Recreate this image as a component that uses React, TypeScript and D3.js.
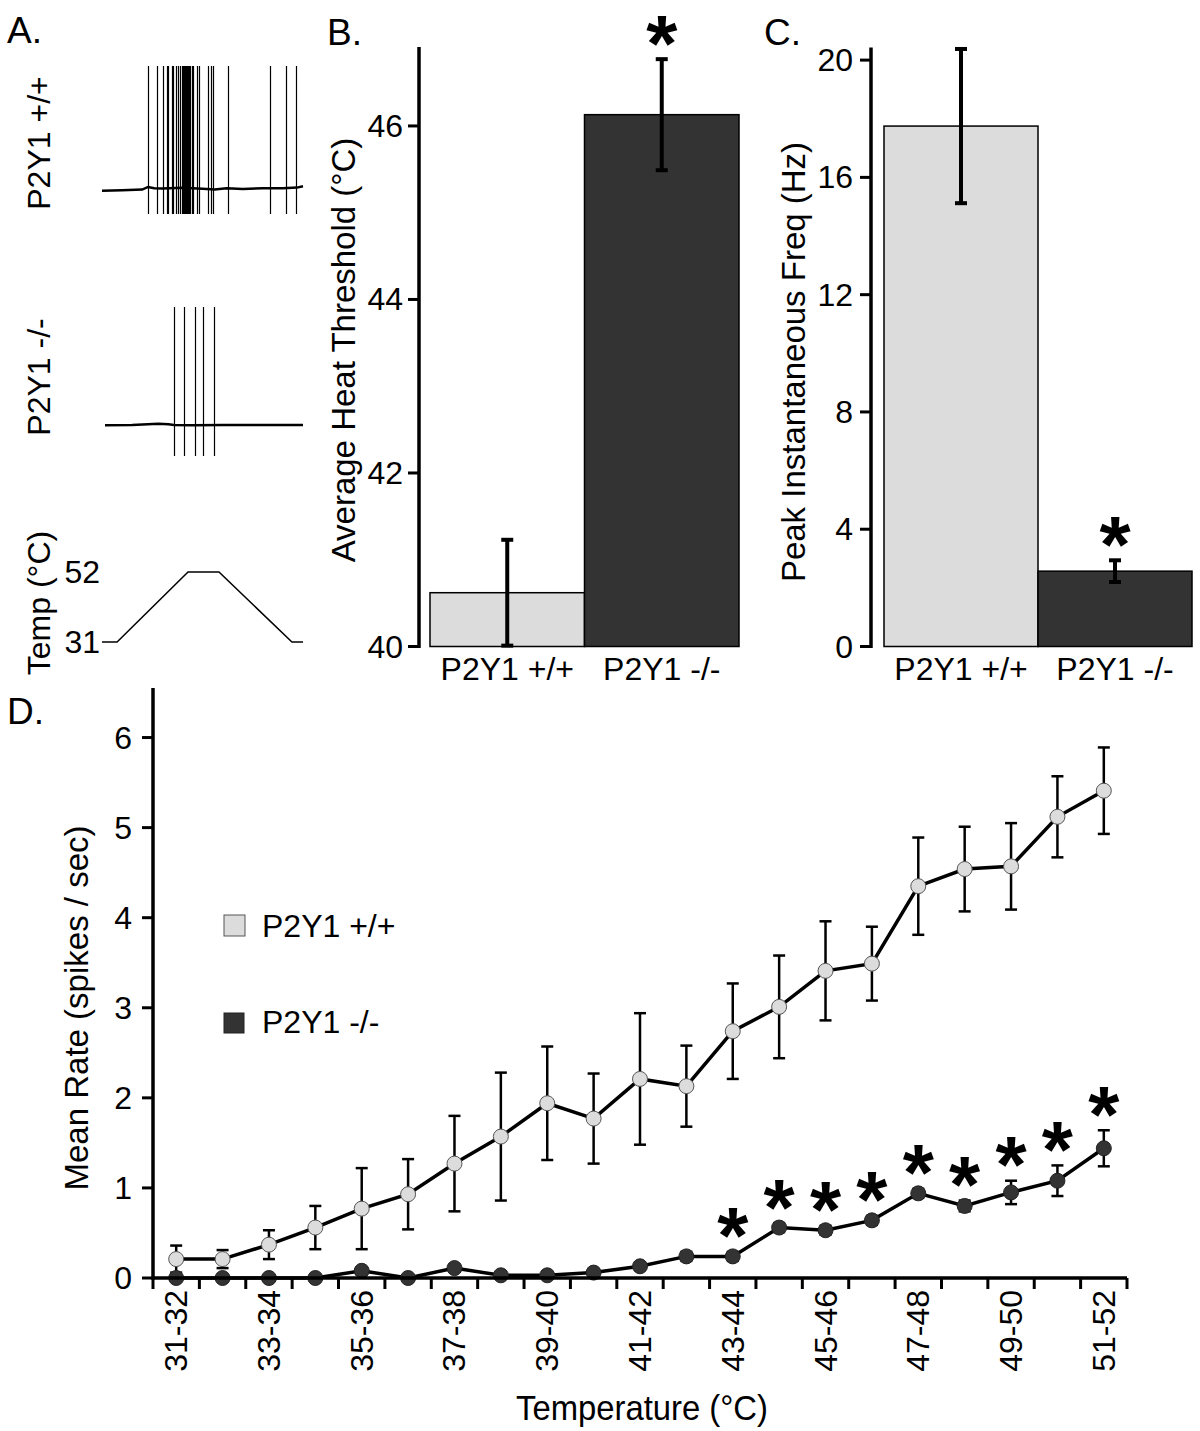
import React from 'react';
import * as d3 from 'd3';

const FONT = '"Liberation Sans", Arial, Helvetica, sans-serif';
const LIGHT = '#dcdcdc';
const DARK = '#333333';

// ---------- Panel A: recordings ----------
const wtSpikeTimes = [22.9, 27.4, 30.3, 32.3, 32.8, 34.8, 35.3, 36.8, 37.8, 38.8, 39.8, 40.3, 40.8, 41.3, 41.8, 42.3, 42.8, 43.3, 43.8, 44.8, 45.3, 47.3, 48.3, 52.7, 54.2, 55.2, 62.7, 83.6, 91.5, 96.5];
const koSpikeTimes = [35.8, 40.8, 46.3, 50.2, 55.7];
const wtBaselineT = [0, 10, 20, 22.9, 26, 30, 40, 50, 56, 62, 70, 80, 90, 97, 100];
const wtBaselineV = [-57, -56.5, -56, -54, -55, -55.2, -54.6, -55.4, -56, -55, -55.5, -55, -55, -54.5, -53.5];
const koBaselineT = [1.5, 15, 28, 33, 35.8, 45, 60, 80, 100];
const koBaselineV = [-51.2, -51, -50.2, -50.5, -51, -51.2, -51, -51, -51];
const spikePeak = 40;
const spikeTrough = -75;
const tempProfileT = [0, 7.5, 42.8, 58.2, 94.5, 100];
const tempProfileC = [31, 31, 52, 52, 31, 31];
const tempTicks = [31, 52];

// ---------- Panel B / C ----------
const groups = ['P2Y1 +/+', 'P2Y1 -/-'];
const heatThreshold = [40.62, 46.13];
const heatThresholdErr = [0.61, 0.64];
const heatSig = [false, true];
const heatTicks = [40, 42, 44, 46];
const peakFreq = [17.75, 2.57];
const peakFreqErr = [2.63, 0.37];
const freqSig = [false, true];
const freqTicks = [0, 4, 8, 12, 16, 20];

// ---------- Panel D ----------
const tempBins = ['31-32', '32-33', '33-34', '34-35', '35-36', '36-37', '37-38', '38-39', '39-40', '40-41', '41-42', '42-43', '43-44', '44-45', '45-46', '46-47', '47-48', '48-49', '49-50', '50-51', '51-52'];
const tempBinLabels = ['31-32', '33-34', '35-36', '37-38', '39-40', '41-42', '43-44', '45-46', '47-48', '49-50', '51-52'];
const wtRate = [0.21, 0.21, 0.37, 0.56, 0.77, 0.93, 1.27, 1.57, 1.94, 1.77, 2.21, 2.13, 2.74, 3.01, 3.41, 3.49, 4.35, 4.54, 4.57, 5.12, 5.41];
const wtRateErr = [0.15, 0.1, 0.16, 0.24, 0.45, 0.39, 0.53, 0.71, 0.63, 0.5, 0.73, 0.45, 0.53, 0.57, 0.55, 0.41, 0.54, 0.47, 0.48, 0.45, 0.48];
const koRate = [0, 0, 0, 0, 0.08, 0, 0.11, 0.03, 0.03, 0.06, 0.13, 0.24, 0.24, 0.56, 0.53, 0.64, 0.94, 0.8, 0.95, 1.08, 1.44];
const koRateErr = [0.02, 0.02, 0.02, 0.02, 0.04, 0.02, 0.04, 0.02, 0.02, 0.03, 0.04, 0.05, 0.05, 0.05, 0.05, 0.05, 0.05, 0.06, 0.13, 0.17, 0.2];
const koSig = [false, false, false, false, false, false, false, false, false, false, false, false, true, true, true, true, true, true, true, true, true];
const rateTicks = [0, 1, 2, 3, 4, 5, 6];

const Star = ({ x, y, size = 80 }: { x: number; y: number; size?: number }) => (
  <text x={x} y={y + size * 0.47} textAnchor="middle" fontSize={size} fontWeight="bold" fontFamily={FONT} fill="#000">*</text>
);

function PanelA() {
  const t = d3.scaleLinear().domain([0, 100]).range([102, 303]);
  const vWT = d3.scaleLinear().domain([spikeTrough, spikePeak]).range([214, 66]);
  const vKO = d3.scaleLinear().domain([spikeTrough, spikePeak]).range([456, 307]);
  const tempY = d3.scaleLinear().domain([31, 52]).range([642, 572]);
  const line = d3.line<[number, number]>();
  const wtBase = line(wtBaselineT.map((tt, i) => [t(tt), vWT(wtBaselineV[i])]))!;
  const koBase = line(koBaselineT.map((tt, i) => [t(tt), vKO(koBaselineV[i])]))!;
  const tempPath = line(tempProfileT.map((tt, i) => [t(tt), tempY(tempProfileC[i])]))!;
  return (
    <g>
      <text x={7} y={43} fontSize={37} fontFamily={FONT}>A.</text>
      <text transform="translate(50,143) rotate(-90)" textAnchor="middle" fontSize={32} fontFamily={FONT}>P2Y1 +/+</text>
      <text transform="translate(50,377) rotate(-90)" textAnchor="middle" fontSize={32} fontFamily={FONT}>P2Y1 -/-</text>
      <text transform="translate(50,603) rotate(-90)" textAnchor="middle" fontSize={32} fontFamily={FONT}>Temp (°C)</text>
      <path d={wtBase} fill="none" stroke="#000" strokeWidth={2.5} />
      {wtSpikeTimes.map((s, i) => (
        <line key={i} x1={Math.round(t(s)) + 0.5} x2={Math.round(t(s)) + 0.5} y1={vWT(spikePeak)} y2={vWT(spikeTrough)} stroke="#000" strokeWidth={1.2} />
      ))}
      <path d={koBase} fill="none" stroke="#000" strokeWidth={2.5} />
      {koSpikeTimes.map((s, i) => (
        <line key={i} x1={Math.round(t(s)) + 0.5} x2={Math.round(t(s)) + 0.5} y1={vKO(spikePeak)} y2={vKO(spikeTrough)} stroke="#000" strokeWidth={1.2} />
      ))}
      <path d={tempPath} fill="none" stroke="#000" strokeWidth={1.5} />
      {tempTicks.map((v) => (
        <text key={v} x={100} y={tempY(v)} textAnchor="end" dominantBaseline="central" fontSize={32} fontFamily={FONT}>{v}</text>
      ))}
    </g>
  );
}

function BarPanel(props: {
  label: string; labelX: number; axisX: number; x0: number; x1: number;
  domain: [number, number]; top: number; values: number[]; errs: number[]; sig: boolean[];
  ticks: number[]; title: string; titleX: number; titleY: number; labelGap: number;
}) {
  const { label, labelX, axisX, x0, x1, domain, top, values, errs, sig, ticks, title, titleX, titleY, labelGap } = props;
  const y = d3.scaleLinear().domain(domain).range([646.5, top]);
  const x = d3.scaleBand().domain(groups).range([x0, x1]).padding(0);
  const base = y(domain[0]);
  return (
    <g>
      <text x={labelX} y={45} fontSize={37} fontFamily={FONT}>{label}</text>
      <text transform={`translate(${titleX},${titleY}) rotate(-90)`} textAnchor="middle" fontSize={33} fontFamily={FONT}>{title}</text>
      {groups.map((g, i) => (
        <rect key={g} x={x(g)!} y={y(values[i])} width={x.bandwidth()} height={base - y(values[i])}
          fill={i === 0 ? LIGHT : DARK} stroke="#000" strokeWidth={1.5} />
      ))}
      {groups.map((g, i) => {
        const cx = x(g)! + x.bandwidth() / 2;
        const yt = y(values[i] + errs[i]);
        const yb = y(values[i] - errs[i]);
        return (
          <g key={g}>
            <line x1={cx} x2={cx} y1={yt} y2={yb} stroke="#000" strokeWidth={4} />
            <line x1={cx - 6} x2={cx + 6} y1={yt} y2={yt} stroke="#000" strokeWidth={4} />
            <line x1={cx - 6} x2={cx + 6} y1={yb} y2={yb} stroke="#000" strokeWidth={4} />
            {sig[i] && <Star x={cx} y={yt - 26} />}
          </g>
        );
      })}
      <line x1={axisX} x2={axisX} y1={top} y2={base + 1.5} stroke="#000" strokeWidth={3.5} />
      {ticks.map((v) => (
        <g key={v}>
          <line x1={axisX - 11} x2={axisX} y1={y(v)} y2={y(v)} stroke="#000" strokeWidth={3} />
          <text x={axisX - labelGap} y={y(v)} textAnchor="end" dominantBaseline="central" fontSize={32} fontFamily={FONT}>{v}</text>
        </g>
      ))}
      {groups.map((g) => (
        <text key={g} x={x(g)! + x.bandwidth() / 2} y={680} textAnchor="middle" fontSize={32} fontFamily={FONT}>{g}</text>
      ))}
    </g>
  );
}

function PanelD() {
  const x = d3.scaleBand().domain(tempBins).range([153, 1127]).padding(0);
  const y = d3.scaleLinear().domain([0, 6.55]).range([1278, 688]);
  const cx = (b: string) => x(b)! + x.bandwidth() / 2;
  const line = d3.line<number>().x((_, i) => cx(tempBins[i])).y((v) => y(v));
  const boundaries = [...tempBins.map((b) => x(b)!), 1127];
  const errBars = (vals: number[], errs: number[], key: string) =>
    vals.map((v, i) => {
      const xx = cx(tempBins[i]);
      const yt = y(v + errs[i]);
      const yb = y(Math.max(0, v - errs[i]));
      return (
        <g key={key + i}>
          <line x1={xx} x2={xx} y1={yt} y2={yb} stroke="#000" strokeWidth={2.5} />
          <line x1={xx - 6} x2={xx + 6} y1={yt} y2={yt} stroke="#000" strokeWidth={2.5} />
          <line x1={xx - 6} x2={xx + 6} y1={yb} y2={yb} stroke="#000" strokeWidth={2.5} />
        </g>
      );
    });
  return (
    <g>
      <text x={7} y={724} fontSize={37} fontFamily={FONT}>D.</text>
      <text transform="translate(88,1008) rotate(-90)" textAnchor="middle" fontSize={33} fontFamily={FONT}>Mean Rate (spikes / sec)</text>
      <text x={642} y={1420} textAnchor="middle" fontSize={35} fontFamily={FONT} textLength={252} lengthAdjust="spacingAndGlyphs">Temperature (°C)</text>
      {/* legend */}
      <rect x={224} y={915} width={21} height={21} fill={LIGHT} stroke="#555" strokeWidth={1} />
      <text x={262} y={937} fontSize={32} fontFamily={FONT}>{groups[0]}</text>
      <rect x={224} y={1013} width={20} height={20} fill={DARK} stroke="#222" strokeWidth={1} />
      <text x={262} y={1033} fontSize={32} fontFamily={FONT}>{groups[1]}</text>
      {errBars(wtRate, wtRateErr, 'w')}
      <path d={line(wtRate)!} fill="none" stroke="#000" strokeWidth={3.5} />
      {wtRate.map((v, i) => (
        <circle key={'wc' + i} cx={cx(tempBins[i])} cy={y(v)} r={7.5} fill={LIGHT} stroke="#555" strokeWidth={1} />
      ))}
      {errBars(koRate, koRateErr, 'k')}
      <path d={line(koRate)!} fill="none" stroke="#000" strokeWidth={3.5} />
      {koRate.map((v, i) => (
        <circle key={'kc' + i} cx={cx(tempBins[i])} cy={y(v)} r={7.5} fill={DARK} stroke="#222" strokeWidth={1} />
      ))}
      {koRate.map((v, i) => koSig[i] ? <Star key={'s' + i} x={cx(tempBins[i])} y={y(v + koRateErr[i]) - 26} /> : null)}
      {/* axes */}
      <line x1={153} x2={153} y1={688} y2={1279.5} stroke="#000" strokeWidth={3.5} />
      <line x1={151.5} x2={1127} y1={1278} y2={1278} stroke="#000" strokeWidth={3.5} />
      {rateTicks.map((v) => (
        <g key={v}>
          <line x1={142} x2={153} y1={y(v)} y2={y(v)} stroke="#000" strokeWidth={3} />
          <text x={132} y={y(v)} textAnchor="end" dominantBaseline="central" fontSize={32} fontFamily={FONT}>{v}</text>
        </g>
      ))}
      {boundaries.map((bx, i) => (
        <line key={'t' + i} x1={bx} x2={bx} y1={1278} y2={1289} stroke="#000" strokeWidth={3} />
      ))}
      {tempBinLabels.map((b) => (
        <text key={b} transform={`translate(${cx(b)},1290) rotate(-90)`} textAnchor="end" dominantBaseline="central" fontSize={32} fontFamily={FONT}>{b}</text>
      ))}
    </g>
  );
}

export default function App() {
  return (
    <div style={{ position: 'absolute', left: 0, top: 0 }}>
      <svg width={1200} height={1431} style={{ display: 'block', background: '#fff' }}>
        <rect width={1200} height={1431} fill="#fff" />
        <PanelA />
        <BarPanel label="B." labelX={327} axisX={419} x0={430} x1={739} domain={[40, 46.91]} top={47}
          values={heatThreshold} errs={heatThresholdErr} sig={heatSig} ticks={heatTicks}
          title="Average Heat Threshold (°C)" titleX={355} titleY={350} labelGap={16} />
        <BarPanel label="C." labelX={764} axisX={871} x0={884} x1={1192} domain={[0, 20.43]} top={47.5}
          values={peakFreq} errs={peakFreqErr} sig={freqSig} ticks={freqTicks}
          title="Peak Instantaneous Freq (Hz)" titleX={805} titleY={362} labelGap={18} />
        <PanelD />
      </svg>
    </div>
  );
}
